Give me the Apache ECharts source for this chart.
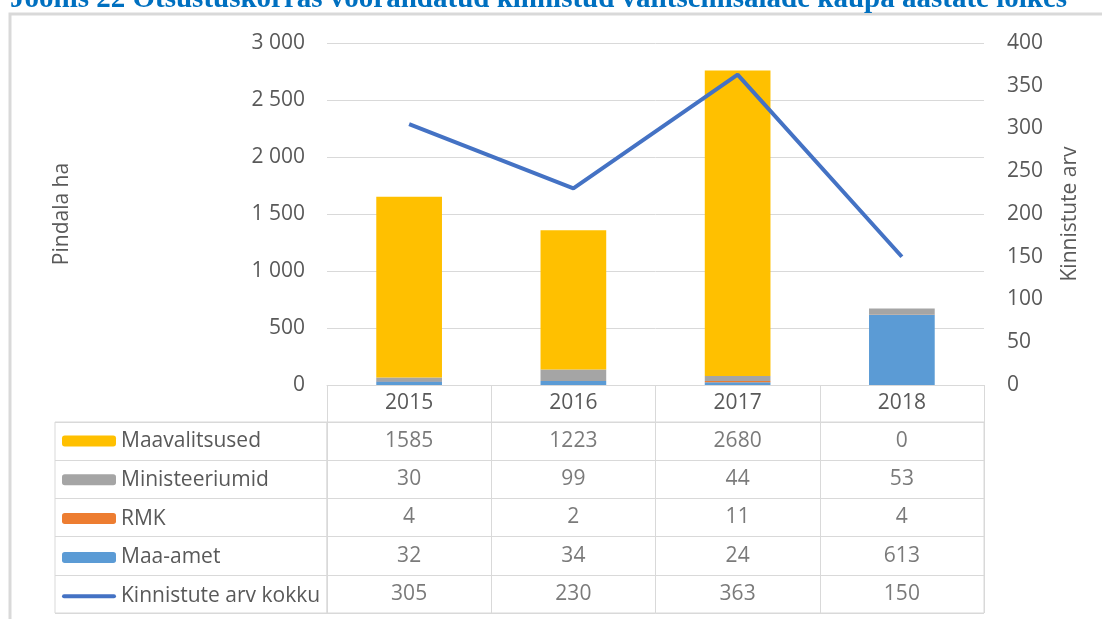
<!DOCTYPE html>
<html>
<head>
<meta charset="utf-8">
<title>Joonis 22</title>
<script src="https://cdn.jsdelivr.net/npm/echarts@6/dist/echarts.min.js"></script>
<style>
  html, body { margin: 0; padding: 0; background: #fff; }
  #chart { width: 1102px; height: 619px; }
</style>
</head>
<body>
<div id="chart"></div>
<script>
// andmed
var years = ['2015', '2016', '2017', '2018'];
var maavalitsused = [1585, 1223, 2680, 0];
var ministeeriumid = [30, 99, 44, 53];
var rmk = [4, 2, 11, 4];
var maaAmet = [32, 34, 24, 613];
var kinnistud = [305, 230, 363, 150];
var rowNames = ['Maavalitsused', 'Ministeeriumid', 'RMK', 'Maa-amet', 'Kinnistute arv kokku'];
var areaTicks = [0, 500, 1000, 1500, 2000, 2500, 3000];
var countTicks = [0, 50, 100, 150, 200, 250, 300, 350, 400];

var textColor = '#595959';
var lineColor = '#d9d9d9';
var font = 'Open Sans';
var fs = 21;

// tabeli lahtrid
var rows = [maavalitsused, ministeeriumid, rmk, maaAmet, kinnistud];
var cells = [];
rows.forEach(function (row, r) {
  row.forEach(function (v, c) {
    cells.push([c, r, v]);
  });
});

var chart = echarts.init(document.getElementById('chart'));

var option = {
  animation: false,
  textStyle: { fontFamily: font },
  graphic: [
    {
      type: 'rect',
      shape: { x: 10, y: 14, width: 1200, height: 700 },
      style: { fill: 'none', stroke: lineColor, lineWidth: 3 },
      silent: true
    },
    {
      type: 'text',
      left: 10,
      top: -15,
      style: {
        text: 'Joonis 22 Otsustuskorras võõrandatud kinnistud valitsemisalade kaupa aastate lõikes',
        font: 'bold 29px "Liberation Serif"',
        fill: '#0070c0'
      },
      silent: true
    }
  ],
  legend: {
    orient: 'vertical',
    left: 62,
    top: 429,
    padding: 0,
    itemWidth: 54,
    itemHeight: 11,
    itemGap: 14.8,
    textStyle: { fontSize: fs, color: textColor, lineHeight: 24, fontFamily: font },
    data: [
      { name: 'Maavalitsused' },
      { name: 'Ministeeriumid' },
      { name: 'RMK' },
      { name: 'Maa-amet' },
      { name: 'Kinnistute arv kokku', icon: 'path://M2,0 L52,0 A2,2 0 0 1 52,4 L2,4 A2,2 0 0 1 2,0 Z' }
    ],
    selectedMode: false
  },
  grid: [
    { left: 327, right: 118, top: 43, bottom: 234 },
    { left: 55, width: 272, top: 422, height: 191, show: true, borderColor: lineColor, borderWidth: 1 },
    { left: 327, right: 118, top: 422, height: 191, show: true, borderColor: lineColor, borderWidth: 1 }
  ],
  xAxis: [
    {
      type: 'category',
      gridIndex: 0,
      data: years,
      axisLine: { lineStyle: { color: lineColor, width: 1 } },
      axisTick: { show: true, interval: 0, length: 37, lineStyle: { color: lineColor } },
      axisLabel: { fontSize: fs, color: textColor, margin: 8 }
    },
    { type: 'value', gridIndex: 1, show: false, min: 0, max: 1 },
    {
      type: 'category',
      gridIndex: 2,
      data: years,
      axisLine: { show: false },
      axisTick: { show: false },
      axisLabel: { show: false },
      splitLine: { show: true, interval: 0, lineStyle: { color: lineColor } }
    }
  ],
  yAxis: [
    {
      type: 'value',
      gridIndex: 0,
      min: areaTicks[0],
      max: areaTicks[areaTicks.length - 1],
      interval: 500,
      name: 'Pindala ha',
      nameLocation: 'middle',
      nameRotate: 90,
      nameGap: 254,
      nameTextStyle: { fontSize: fs, color: textColor },
      axisLine: { show: false },
      axisTick: { show: false },
      axisLabel: {
        fontSize: fs,
        color: textColor,
        margin: 22,
        formatter: function (v) { return String(v).replace(/\B(?=(\d{3})+(?!\d))/g, ' '); }
      },
      splitLine: { lineStyle: { color: lineColor } }
    },
    {
      type: 'value',
      gridIndex: 0,
      position: 'right',
      min: countTicks[0],
      max: countTicks[countTicks.length - 1],
      interval: 50,
      name: 'Kinnistute arv',
      nameLocation: 'middle',
      nameRotate: 90,
      nameGap: 76,
      nameTextStyle: { fontSize: fs, color: textColor },
      axisLine: { show: false },
      axisTick: { show: false },
      axisLabel: { fontSize: fs, color: textColor, margin: 23 },
      splitLine: { show: false }
    },
    {
      type: 'category',
      gridIndex: 1,
      data: rowNames,
      inverse: true,
      axisLine: { show: false },
      axisTick: { show: false },
      axisLabel: { show: false },
      splitLine: { show: true, interval: 0, lineStyle: { color: lineColor } }
    },
    {
      type: 'category',
      gridIndex: 2,
      data: rowNames,
      inverse: true,
      axisLine: { show: false },
      axisTick: { show: false },
      axisLabel: { show: false },
      splitLine: { show: true, interval: 0, lineStyle: { color: lineColor } }
    }
  ],
  series: [
    {
      name: 'Maa-amet', type: 'bar', stack: 'ala', barWidth: '40%',
      xAxisIndex: 0, yAxisIndex: 0, data: maaAmet,
      itemStyle: { color: '#5b9bd5' }
    },
    {
      name: 'RMK', type: 'bar', stack: 'ala',
      xAxisIndex: 0, yAxisIndex: 0, data: rmk,
      itemStyle: { color: '#ed7d31' }
    },
    {
      name: 'Ministeeriumid', type: 'bar', stack: 'ala',
      xAxisIndex: 0, yAxisIndex: 0, data: ministeeriumid,
      itemStyle: { color: '#a5a5a5' }
    },
    {
      name: 'Maavalitsused', type: 'bar', stack: 'ala',
      xAxisIndex: 0, yAxisIndex: 0, data: maavalitsused,
      itemStyle: { color: '#ffc000' }
    },
    {
      name: 'Kinnistute arv kokku', type: 'line',
      xAxisIndex: 0, yAxisIndex: 1, data: kinnistud,
      symbol: 'none',
      lineStyle: { color: '#4472c4', width: 4 },
      itemStyle: { color: '#4472c4' }
    },
    {
      name: 'tabel', type: 'scatter',
      xAxisIndex: 2, yAxisIndex: 3,
      data: cells,
      symbolSize: 1,
      itemStyle: { color: 'transparent' },
      label: {
        show: true,
        position: 'inside',
        fontSize: fs,
        color: textColor,
        formatter: function (p) { return p.value[2]; }
      },
      silent: true
    }
  ]
};

chart.setOption(option);
</script>
</body>
</html>
